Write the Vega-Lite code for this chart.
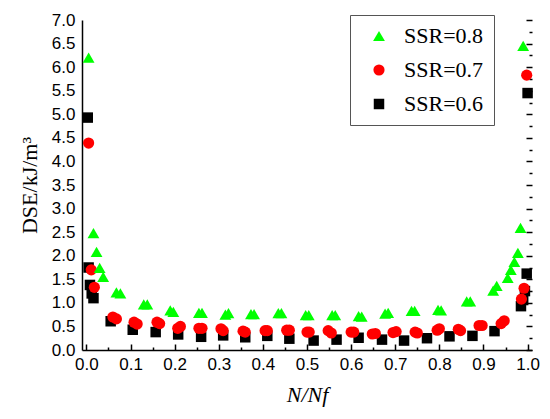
{
  "$schema": "https://vega.github.io/schema/vega-lite/v6.json",
  "width": 450,
  "height": 330,
  "autosize": {"type": "none"},
  "padding": {"left": 82, "top": 20, "right": 18, "bottom": 69},
  "background": "white",
  "config": {
    "view": {"stroke": null},
    "axis": {
      "grid": false,
      "ticks": false,
      "domainColor": "black",
      "domainWidth": 1.5,
      "labelFont": "Arial",
      "labelFontSize": 17,
      "labelColor": "black",
      "titleFont": "Times New Roman",
      "titleFontSize": 22,
      "titleFontWeight": "normal",
      "titleColor": "black"
    },
    "legend": {
      "strokeColor": "#555555",
      "fillColor": "white",
      "padding": 10,
      "labelFont": "Times New Roman",
      "labelFontSize": 22,
      "labelColor": "black",
      "symbolOffset": 8,
      "labelOffset": 14,
      "rowPadding": 12
    }
  },
  "data": {
    "values": [
      {"n": 0.003, "dse": 4.93, "ssr": "SSR=0.6"},
      {"n": 0.005, "dse": 1.75, "ssr": "SSR=0.6"},
      {"n": 0.008, "dse": 1.38, "ssr": "SSR=0.6"},
      {"n": 0.012, "dse": 1.2, "ssr": "SSR=0.6"},
      {"n": 0.016, "dse": 1.1, "ssr": "SSR=0.6"},
      {"n": 0.055, "dse": 0.61, "ssr": "SSR=0.6"},
      {"n": 0.105, "dse": 0.43, "ssr": "SSR=0.6"},
      {"n": 0.157, "dse": 0.38, "ssr": "SSR=0.6"},
      {"n": 0.208, "dse": 0.33, "ssr": "SSR=0.6"},
      {"n": 0.26, "dse": 0.28, "ssr": "SSR=0.6"},
      {"n": 0.31, "dse": 0.31, "ssr": "SSR=0.6"},
      {"n": 0.36, "dse": 0.27, "ssr": "SSR=0.6"},
      {"n": 0.41, "dse": 0.3, "ssr": "SSR=0.6"},
      {"n": 0.46, "dse": 0.24, "ssr": "SSR=0.6"},
      {"n": 0.515, "dse": 0.2, "ssr": "SSR=0.6"},
      {"n": 0.567, "dse": 0.22, "ssr": "SSR=0.6"},
      {"n": 0.617, "dse": 0.26, "ssr": "SSR=0.6"},
      {"n": 0.67, "dse": 0.22, "ssr": "SSR=0.6"},
      {"n": 0.72, "dse": 0.2, "ssr": "SSR=0.6"},
      {"n": 0.772, "dse": 0.25, "ssr": "SSR=0.6"},
      {"n": 0.823, "dse": 0.29, "ssr": "SSR=0.6"},
      {"n": 0.875, "dse": 0.3, "ssr": "SSR=0.6"},
      {"n": 0.925, "dse": 0.4, "ssr": "SSR=0.6"},
      {"n": 0.985, "dse": 0.93, "ssr": "SSR=0.6"},
      {"n": 0.99, "dse": 1.06, "ssr": "SSR=0.6"},
      {"n": 0.994, "dse": 1.25, "ssr": "SSR=0.6"},
      {"n": 0.998, "dse": 1.62, "ssr": "SSR=0.6"},
      {"n": 1.0, "dse": 5.45, "ssr": "SSR=0.6"},
      {"n": 0.005, "dse": 4.39, "ssr": "SSR=0.7"},
      {"n": 0.011, "dse": 1.7, "ssr": "SSR=0.7"},
      {"n": 0.018, "dse": 1.33, "ssr": "SSR=0.7"},
      {"n": 0.06, "dse": 0.7, "ssr": "SSR=0.7"},
      {"n": 0.068, "dse": 0.66, "ssr": "SSR=0.7"},
      {"n": 0.108, "dse": 0.59, "ssr": "SSR=0.7"},
      {"n": 0.115, "dse": 0.55, "ssr": "SSR=0.7"},
      {"n": 0.16, "dse": 0.59, "ssr": "SSR=0.7"},
      {"n": 0.166, "dse": 0.56, "ssr": "SSR=0.7"},
      {"n": 0.207, "dse": 0.46, "ssr": "SSR=0.7"},
      {"n": 0.213, "dse": 0.5, "ssr": "SSR=0.7"},
      {"n": 0.255, "dse": 0.46, "ssr": "SSR=0.7"},
      {"n": 0.262, "dse": 0.46, "ssr": "SSR=0.7"},
      {"n": 0.305, "dse": 0.45, "ssr": "SSR=0.7"},
      {"n": 0.31, "dse": 0.41, "ssr": "SSR=0.7"},
      {"n": 0.355, "dse": 0.4, "ssr": "SSR=0.7"},
      {"n": 0.36, "dse": 0.38, "ssr": "SSR=0.7"},
      {"n": 0.405, "dse": 0.41, "ssr": "SSR=0.7"},
      {"n": 0.41, "dse": 0.41, "ssr": "SSR=0.7"},
      {"n": 0.454, "dse": 0.42, "ssr": "SSR=0.7"},
      {"n": 0.46, "dse": 0.42, "ssr": "SSR=0.7"},
      {"n": 0.5, "dse": 0.38, "ssr": "SSR=0.7"},
      {"n": 0.505, "dse": 0.38, "ssr": "SSR=0.7"},
      {"n": 0.548, "dse": 0.41, "ssr": "SSR=0.7"},
      {"n": 0.555, "dse": 0.36, "ssr": "SSR=0.7"},
      {"n": 0.6, "dse": 0.38, "ssr": "SSR=0.7"},
      {"n": 0.606, "dse": 0.38, "ssr": "SSR=0.7"},
      {"n": 0.648, "dse": 0.34, "ssr": "SSR=0.7"},
      {"n": 0.655, "dse": 0.35, "ssr": "SSR=0.7"},
      {"n": 0.695, "dse": 0.37, "ssr": "SSR=0.7"},
      {"n": 0.702, "dse": 0.39, "ssr": "SSR=0.7"},
      {"n": 0.745, "dse": 0.38, "ssr": "SSR=0.7"},
      {"n": 0.75, "dse": 0.36, "ssr": "SSR=0.7"},
      {"n": 0.795, "dse": 0.42, "ssr": "SSR=0.7"},
      {"n": 0.8, "dse": 0.45, "ssr": "SSR=0.7"},
      {"n": 0.843, "dse": 0.44, "ssr": "SSR=0.7"},
      {"n": 0.848, "dse": 0.41, "ssr": "SSR=0.7"},
      {"n": 0.89, "dse": 0.52, "ssr": "SSR=0.7"},
      {"n": 0.897, "dse": 0.52, "ssr": "SSR=0.7"},
      {"n": 0.94, "dse": 0.56, "ssr": "SSR=0.7"},
      {"n": 0.947, "dse": 0.62, "ssr": "SSR=0.7"},
      {"n": 0.986, "dse": 1.08, "ssr": "SSR=0.7"},
      {"n": 0.992, "dse": 1.31, "ssr": "SSR=0.7"},
      {"n": 0.998, "dse": 5.83, "ssr": "SSR=0.7"},
      {"n": 0.005, "dse": 6.2, "ssr": "SSR=0.8"},
      {"n": 0.016, "dse": 2.48, "ssr": "SSR=0.8"},
      {"n": 0.023, "dse": 2.08, "ssr": "SSR=0.8"},
      {"n": 0.03, "dse": 1.74, "ssr": "SSR=0.8"},
      {"n": 0.038, "dse": 1.55, "ssr": "SSR=0.8"},
      {"n": 0.068, "dse": 1.22, "ssr": "SSR=0.8"},
      {"n": 0.077, "dse": 1.2, "ssr": "SSR=0.8"},
      {"n": 0.13, "dse": 0.97, "ssr": "SSR=0.8"},
      {"n": 0.138, "dse": 0.97, "ssr": "SSR=0.8"},
      {"n": 0.19, "dse": 0.84, "ssr": "SSR=0.8"},
      {"n": 0.197, "dse": 0.81, "ssr": "SSR=0.8"},
      {"n": 0.255, "dse": 0.79, "ssr": "SSR=0.8"},
      {"n": 0.262, "dse": 0.79, "ssr": "SSR=0.8"},
      {"n": 0.315, "dse": 0.75, "ssr": "SSR=0.8"},
      {"n": 0.322, "dse": 0.78, "ssr": "SSR=0.8"},
      {"n": 0.373, "dse": 0.76, "ssr": "SSR=0.8"},
      {"n": 0.38, "dse": 0.76, "ssr": "SSR=0.8"},
      {"n": 0.435, "dse": 0.78, "ssr": "SSR=0.8"},
      {"n": 0.442, "dse": 0.78, "ssr": "SSR=0.8"},
      {"n": 0.497, "dse": 0.74, "ssr": "SSR=0.8"},
      {"n": 0.504, "dse": 0.74, "ssr": "SSR=0.8"},
      {"n": 0.557, "dse": 0.74, "ssr": "SSR=0.8"},
      {"n": 0.564, "dse": 0.74, "ssr": "SSR=0.8"},
      {"n": 0.617, "dse": 0.72, "ssr": "SSR=0.8"},
      {"n": 0.624, "dse": 0.71, "ssr": "SSR=0.8"},
      {"n": 0.677, "dse": 0.77, "ssr": "SSR=0.8"},
      {"n": 0.684, "dse": 0.79, "ssr": "SSR=0.8"},
      {"n": 0.737, "dse": 0.83, "ssr": "SSR=0.8"},
      {"n": 0.744, "dse": 0.83, "ssr": "SSR=0.8"},
      {"n": 0.797, "dse": 0.85, "ssr": "SSR=0.8"},
      {"n": 0.804, "dse": 0.84, "ssr": "SSR=0.8"},
      {"n": 0.862, "dse": 1.03, "ssr": "SSR=0.8"},
      {"n": 0.87, "dse": 1.03, "ssr": "SSR=0.8"},
      {"n": 0.922, "dse": 1.26, "ssr": "SSR=0.8"},
      {"n": 0.93, "dse": 1.36, "ssr": "SSR=0.8"},
      {"n": 0.955, "dse": 1.53, "ssr": "SSR=0.8"},
      {"n": 0.962, "dse": 1.7, "ssr": "SSR=0.8"},
      {"n": 0.97, "dse": 1.87, "ssr": "SSR=0.8"},
      {"n": 0.978, "dse": 2.06, "ssr": "SSR=0.8"},
      {"n": 0.984, "dse": 2.59, "ssr": "SSR=0.8"},
      {"n": 0.99, "dse": 6.45, "ssr": "SSR=0.8"}
    ]
  },
  "resolve": {"axis": {"x": "independent", "y": "independent"}},
  "layer": [
    {
      "mark": {"type": "point", "filled": true, "opacity": 1},
      "encoding": {
        "x": {
          "field": "n",
          "type": "quantitative",
          "scale": {"domain": [-0.01, 1.01], "nice": false, "zero": false},
          "axis": {
            "orient": "bottom",
            "title": "N/Nf",
            "titleFontStyle": "italic",
            "titlePadding": 12,
            "values": [0, 0.1, 0.2, 0.3, 0.4, 0.5, 0.6, 0.7, 0.8, 0.9, 1.0],
            "format": ".1f",
            "labelPadding": 6,
            "labelOverlap": false
          }
        },
        "y": {
          "field": "dse",
          "type": "quantitative",
          "scale": {"domain": [0, 7], "nice": false},
          "axis": {
            "orient": "left",
            "title": "DSE/kJ/m³",
            "titlePadding": 10,
            "values": [0, 0.5, 1, 1.5, 2, 2.5, 3, 3.5, 4, 4.5, 5, 5.5, 6, 6.5, 7],
            "format": ".1f",
            "labelPadding": 7,
            "labelOverlap": false
          }
        },
        "color": {
          "field": "ssr",
          "type": "nominal",
          "scale": {"domain": ["SSR=0.8", "SSR=0.7", "SSR=0.6"], "range": ["#00ff00", "#ff0000", "#000000"]},
          "legend": {
            "title": null,
            "orient": "none",
            "legendX": 268,
            "legendY": -5,
            "encode": {"symbols": {"update": {"size": {"value": 45}}}}
          }
        },
        "shape": {
          "field": "ssr",
          "type": "nominal",
          "scale": {"domain": ["SSR=0.8", "SSR=0.7", "SSR=0.6"], "range": ["triangle-up", "circle", "square"]}
        },
        "size": {
          "field": "ssr",
          "type": "nominal",
          "scale": {"domain": ["SSR=0.8", "SSR=0.7", "SSR=0.6"], "range": [140, 110, 85]},
          "legend": null
        }
      }
    },
    {
      "mark": {"type": "point", "opacity": 0},
      "encoding": {
        "x": {
          "field": "n",
          "type": "quantitative",
          "axis": {
            "orient": "top",
            "title": null,
            "labels": false,
            "domain": false,
            "grid": true,
            "gridColor": "black",
            "gridWidth": 1.5,
            "gridOpacity": 1,
            "gridDash": [6, 1000],
            "values": [0, 0.1, 0.2, 0.3, 0.4, 0.5, 0.6, 0.7, 0.8, 0.9, 1.0]
          }
        },
        "y": {
          "field": "dse",
          "type": "quantitative",
          "axis": {
            "orient": "right",
            "title": null,
            "labels": false,
            "domain": false,
            "grid": true,
            "gridColor": "black",
            "gridWidth": 1.5,
            "gridOpacity": 1,
            "gridDash": [6, 1000],
            "values": [0, 0.5, 1, 1.5, 2, 2.5, 3, 3.5, 4, 4.5, 5, 5.5, 6, 6.5, 7]
          }
        }
      }
    },
    {
      "mark": {"type": "point", "opacity": 0},
      "encoding": {
        "x": {
          "field": "n",
          "type": "quantitative",
          "axis": {
            "orient": "top",
            "title": null,
            "labels": false,
            "domain": false,
            "grid": true,
            "gridColor": "black",
            "gridWidth": 1.5,
            "gridOpacity": 1,
            "gridDash": [3, 1000],
            "values": [0.05, 0.15, 0.25, 0.35, 0.45, 0.55, 0.65, 0.75, 0.85, 0.95]
          }
        },
        "y": {
          "field": "dse",
          "type": "quantitative",
          "axis": {
            "orient": "right",
            "title": null,
            "labels": false,
            "domain": false,
            "grid": true,
            "gridColor": "black",
            "gridWidth": 1.5,
            "gridOpacity": 1,
            "gridDash": [3, 1000],
            "values": [0.25, 0.75, 1.25, 1.75, 2.25, 2.75, 3.25, 3.75, 4.25, 4.75, 5.25, 5.75, 6.25, 6.75]
          }
        }
      }
    }
  ]
}
